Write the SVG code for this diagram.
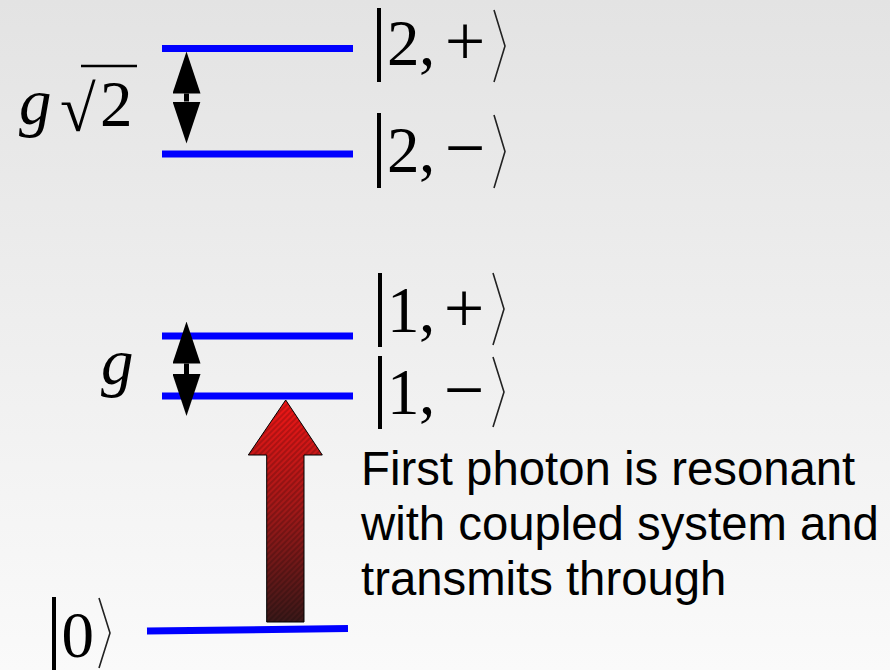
<svg xmlns="http://www.w3.org/2000/svg" width="890" height="670" viewBox="0 0 890 670">
<defs>
<linearGradient id="bg" x1="0" y1="0" x2="0" y2="1"><stop offset="0" stop-color="#e3e3e3"/><stop offset="1" stop-color="#fafafa"/></linearGradient>
<linearGradient id="red" x1="0" y1="0" x2="0" y2="1"><stop offset="0" stop-color="#f01616"/><stop offset="0.5" stop-color="#a01818"/><stop offset="1" stop-color="#3a1818"/></linearGradient>
<pattern id="hatch" width="4" height="4" patternUnits="userSpaceOnUse" patternTransform="rotate(45)"><rect width="2" height="4" fill="#000" fill-opacity="0.18"/></pattern>
<marker id="head" viewBox="0 0 42 28" refX="0" refY="14" markerWidth="42" markerHeight="28" markerUnits="userSpaceOnUse" orient="auto-start-reverse"><path d="M0,0 L42,14 L0,28 Z" fill="#000"/></marker>
<style>
.level{stroke:#0000ff;stroke-width:7;}
.ket{font-family:"Liberation Serif","Times New Roman",serif;font-size:65px;fill:#000;}
.sign{font-size:72px;}
.it{font-style:italic;}
.bar{stroke:#000;stroke-width:4;}
.br{fill:none;stroke:#222;stroke-width:1.6;}
.note{font-family:"Liberation Sans",Arial,sans-serif;font-size:47.3px;fill:#000;}
.dbl{stroke:#000;stroke-width:5;marker-start:url(#head);marker-end:url(#head);}
</style>
</defs>
<rect width="890" height="670" fill="url(#bg)"/>

<g id="level-2-plus">
<line class="level" x1="162" y1="48.5" x2="353" y2="48.5"/>
<line class="bar" x1="379" y1="8" x2="379" y2="82"/>
<text class="ket" y="65"><tspan x="387">2</tspan><tspan x="419">,</tspan><tspan class="sign" x="465" text-anchor="middle">+</tspan></text>
<polyline class="br" points="494,10 505,46 494,82"/>
</g>

<g id="level-2-minus">
<line class="level" x1="162" y1="154" x2="353" y2="154"/>
<line class="bar" x1="379" y1="113" x2="379" y2="188"/>
<text class="ket" y="172"><tspan x="387">2</tspan><tspan x="419">,</tspan><tspan class="sign" x="465" text-anchor="middle">−</tspan></text>
<polyline class="br" points="494,115 505,151.5 494,188"/>
</g>

<g id="level-1-plus">
<line class="level" x1="162" y1="336" x2="353" y2="336"/>
<line class="bar" x1="380" y1="273" x2="380" y2="347"/>
<text class="ket" y="332"><tspan x="387">1</tspan><tspan x="419">,</tspan><tspan class="sign" x="464" text-anchor="middle">+</tspan></text>
<polyline class="br" points="493,273 504,309 493,345"/>
</g>

<g id="level-1-minus">
<line class="level" x1="162" y1="396" x2="353" y2="396"/>
<line class="bar" x1="380" y1="356" x2="380" y2="429"/>
<text class="ket" y="414"><tspan x="387">1</tspan><tspan x="419">,</tspan><tspan class="sign" x="464" text-anchor="middle">−</tspan></text>
<polyline class="br" points="493,357 504,392 493,427"/>
</g>

<g id="level-0">
<line class="level" x1="147" y1="631" x2="348" y2="628.5"/>
<line class="bar" x1="54" y1="597" x2="54" y2="672"/>
<text class="ket" x="61.5" y="657">0</text>
<polyline class="br" points="99,598 110,633 99,668"/>
</g>

<g id="label-g-sqrt2">
<text class="ket it" x="19" y="124">g</text>
<text class="ket" x="60" y="131" font-size="70">√</text>
<line x1="81" y1="66" x2="137" y2="66" stroke="#000" stroke-width="2.5"/>
<text class="ket" x="100" y="126">2</text>
</g>

<g id="label-g">
<text class="ket it" x="101" y="384">g</text>
</g>

<g id="note">
<text class="note"><tspan x="361" y="485">First photon is resonant</tspan><tspan x="361" y="540">with coupled system and</tspan><tspan x="361" y="595">transmits through</tspan></text>
</g>

<g id="connectors">
<line class="dbl" x1="186.5" y1="93.5" x2="186.5" y2="101.5"/>
<line class="dbl" x1="186.5" y1="363.5" x2="186.5" y2="374"/>
<g id="photon-arrow">
<polygon points="285.7,400 322.3,455 304,455 304,622 266.7,622 266.7,455 248.3,455" fill="url(#red)"/>
<polygon points="285.7,400 322.3,455 304,455 304,622 266.7,622 266.7,455 248.3,455" fill="url(#hatch)" stroke="#000" stroke-width="1"/>
</g>
</g>
</svg>
